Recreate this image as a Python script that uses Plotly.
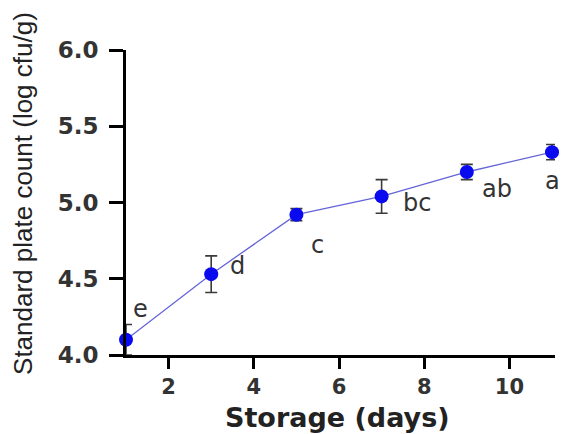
import plotly.graph_objects as go

days = [1, 3, 5, 7, 9, 11]
spc = [4.10, 4.53, 4.92, 5.04, 5.20, 5.33]
sd = [0.10, 0.12, 0.04, 0.11, 0.05, 0.05]
letters = ["e", "d", "c", "bc", "ab", "a"]
y_ticks = [4.0, 4.5, 5.0, 5.5, 6.0]
x_ticks = [2, 4, 6, 8, 10]
x_title = "Storage (days)"
y_title = "Standard plate count (log cfu/g)"

fig = go.Figure()
fig.add_trace(go.Scatter(
    x=days, y=spc, mode="lines+markers",
    line=dict(color="#6464d8", width=1.3),
    marker=dict(color="#0a0aef", size=14, symbol="circle"),
    error_y=dict(type="data", array=sd, visible=True, color="#3a3a3a", thickness=1.6, width=6),
    showlegend=False, cliponaxis=False,
))

# letter annotations (offsets in pixels relative to point: right, down)
offsets = [(14, -31), (26, -8), (21, 30), (35, 7), (30, 17), (0, 29)]
for x, y, t, (dx, dy) in zip(days, spc, letters, offsets):
    fig.add_annotation(x=x, y=y, text=t, showarrow=False, xshift=dx, yshift=-dy,
                       font=dict(family="DejaVu Sans", size=24, color="#333333"))

# axis titles as annotations for precise placement
fig.add_annotation(xref="paper", yref="paper", x=0.494, y=0, yshift=-62, yanchor="middle",
                   text=f"<b>{x_title}</b>", showarrow=False,
                   font=dict(family="DejaVu Sans", size=27, color="#222222"))
fig.add_annotation(xref="paper", yref="paper", x=0, xshift=-103, y=0.528, xanchor="center",
                   yanchor="middle", textangle=-90, text=y_title, showarrow=False,
                   font=dict(family="Liberation Sans", size=26, color="#222222"))

fig.update_layout(
    width=567, height=434,
    margin=dict(l=126, r=12, t=50, b=79),
    paper_bgcolor="white", plot_bgcolor="white",
    font=dict(family="Liberation Sans", color="#333333"),
)
fig.update_xaxes(
    range=[1, 11.07], tickvals=x_ticks, ticktext=[str(v) for v in x_ticks],
    showline=True, linecolor="black", linewidth=3, automargin=False,
    ticks="outside", ticklen=11, tickwidth=3, tickcolor="black",
    showgrid=False, zeroline=False,
    tickfont=dict(size=21, family="DejaVu Sans", color="#333333", weight="bold"),
)
fig.update_yaxes(
    range=[4.0, 6.0], tickvals=y_ticks, ticktext=["%.1f" % v for v in y_ticks],
    showline=True, linecolor="black", linewidth=3, automargin=False,
    ticks="outside", ticklen=14, tickwidth=3, tickcolor="black",
    showgrid=False, zeroline=False, ticklabelstandoff=6,
    tickfont=dict(size=23, family="DejaVu Sans", color="#333333", weight="bold"),
)

fig.write_html("out.html")
